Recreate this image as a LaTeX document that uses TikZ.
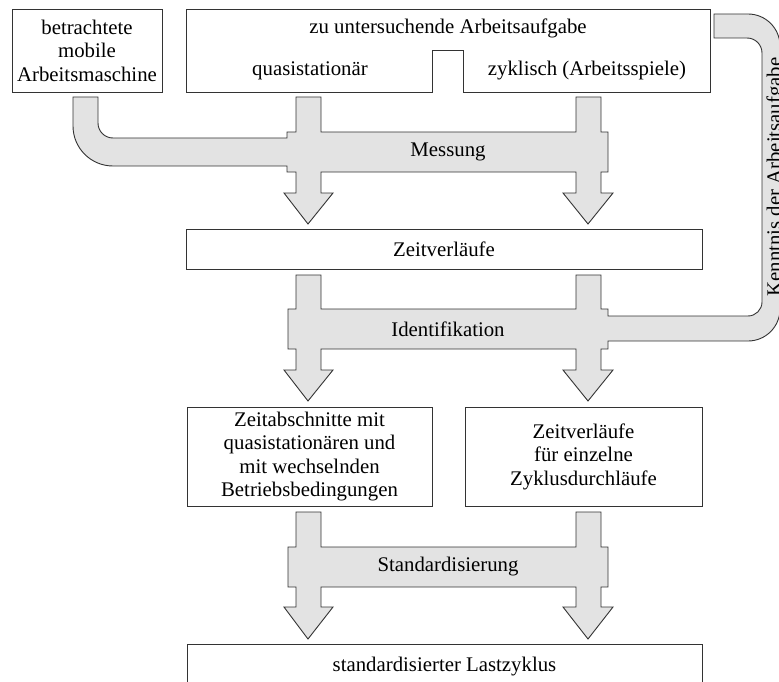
\documentclass[tikz,border=0pt]{standalone}
\usepackage{fontspec}
\setmainfont{Liberation Serif}
\begin{document}
\begin{tikzpicture}[x=1pt,y=-1pt,
  txt/.style={font=\fontsize{20.8}{23.5}\selectfont},
  box/.style={txt, draw=black!80, line width=0.9pt, fill=white, inner sep=0pt, align=center},
  lbl/.style={txt, inner sep=0pt, align=center},
  fat/.style={draw=black!80, line width=0.9pt, fill=black!11, line join=miter}]
\useasboundingbox (0,0) rectangle (779,682);
\clip (0,0) rectangle (779,682);

% --- input boxes ---
\node[box, minimum width=150pt, minimum height=83pt] (maschine) at (87,50.5)
  {betrachtete\\mobile\\Arbeitsmaschine};
\draw[draw=black!80, line width=0.9pt, fill=white]
  (186,9) -- (710,9) -- (710,92) -- (463,92) -- (463,50) -- (432,50)
  -- (432,92) -- (186,92) -- cycle;
\node[lbl] (aufgabe) at (448,28) {zu untersuchende Arbeitsaufgabe};
\node[lbl] (quasi) at (310,71) {quasistationär};
\node[lbl] (zyklisch) at (587,71) {zyklisch (Arbeitsspiele)};

% --- intermediate and result boxes ---
\node[box, minimum width=516pt, minimum height=40pt] (zeit) at (444,249) {Zeitverläufe};
\node[box, minimum width=245pt, minimum height=99pt] (abschnitte) at (309.5,456.5)
  {Zeitabschnitte mit\\quasistationären und\\mit wechselnden\\Betriebsbedingungen};
\node[box, minimum width=237pt, minimum height=99pt] (zyklen) at (583.5,456.5)
  {Zeitverläufe\\für einzelne\\Zyklusdurchläufe};
\node[box, minimum width=515pt, minimum height=46pt] (last) at (444.5,667)
  {standardisierter Lastzyklus};

% --- Messung: merging block arrow ---
\draw[fat] (73,97) -- (98,97) -- (98,123)
  .. controls (98,131.3) and (104.7,138) .. (113,138)
  -- (287,138) -- (287,132) -- (296,132) -- (296,97) -- (321,97) -- (321,132)
  -- (576,132) -- (576,97) -- (601,97) -- (601,132) -- (608,132) -- (608,172)
  -- (601,172) -- (601,193) -- (613,193) -- (588,224) -- (563,193) -- (576,193)
  -- (576,172) -- (321,172) -- (321,193) -- (333,193) -- (308,224) -- (284,193)
  -- (296,193) -- (296,172) -- (287,172) -- (287,166) -- (113,166)
  .. controls (90.9,166) and (73,148.1) .. (73,126) -- cycle;
\node[lbl] (messung) at (448,152) {Messung};

% --- Identifikation: block arrow with feedback arm ---
\draw[fat] (296,275) -- (321,275) -- (321,309) -- (576,309) -- (576,275)
  -- (601,275) -- (601,309) -- (608,309) -- (608,316) -- (748,316)
  .. controls (755.7,316) and (762,309.7) .. (762,302) -- (762,53)
  .. controls (762,44.7) and (755.3,38) .. (747,38) -- (714,38) -- (714,14)
  -- (748,14) .. controls (765.7,14) and (780,28.3) .. (780,46) -- (780,309)
  .. controls (780,326.7) and (765.7,341) .. (748,341)
  -- (608,341) -- (608,349) -- (601,349) -- (601,370) -- (613,370) -- (588,401)
  -- (563,370) -- (576,370) -- (576,349) -- (321,349) -- (321,370) -- (333,370)
  -- (308,401) -- (284,370) -- (296,370) -- (296,349) -- (288,349) -- (288,309)
  -- (296,309) -- cycle;
\node[lbl] (ident) at (448,329) {Identifikation};
\node[lbl, rotate=90, anchor=base] (kenntnis) at (781,177) {Kenntnis der Arbeitsaufgabe};

% --- Standardisierung ---
\draw[fat] (296,512) -- (321,512) -- (321,547) -- (576,547) -- (576,512)
  -- (601,512) -- (601,547) -- (608,547) -- (608,587) -- (601,587) -- (601,607)
  -- (613,607) -- (588,639) -- (563,607) -- (576,607) -- (576,587) -- (321,587)
  -- (321,607) -- (333,607) -- (308,639) -- (284,607) -- (296,607) -- (296,587)
  -- (288,587) -- (288,547) -- (296,547) -- cycle;
\node[lbl] (standard) at (448,567) {Standardisierung};
\end{tikzpicture}
\end{document}
